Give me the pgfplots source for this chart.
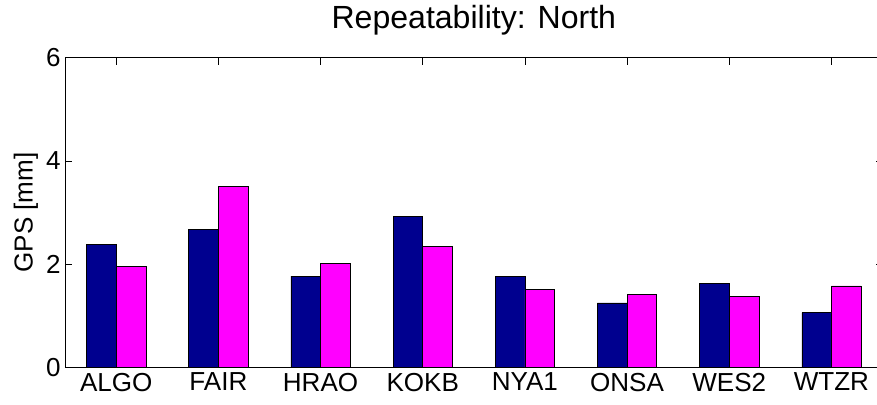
\documentclass[border=0pt]{standalone}
\usepackage{pgfplots}
\pgfplotsset{compat=1.18}
\usepackage{fontspec}
\setmainfont{Liberation Sans}
\definecolor{matnavy}{rgb}{0,0,0.5625}
\definecolor{matmag}{rgb}{1,0,1}
\begin{document}
\begin{tikzpicture}
\begin{axis}[
    scale only axis,
    width=816pt, height=309pt,
    xmin=0.5, xmax=8.5,
    ymin=0, ymax=6,
    xtick={1,2,3,4,5,6,7,8},
    xticklabels={ALGO,FAIR,HRAO,KOKB,NYA1,ONSA,WES2,WTZR},
    ytick={0,2,4,6},
    tick pos=both,
    tick align=inside,
    major tick length=7pt,
    axis line style={line width=0.8pt},
    every tick/.style={black, line width=0.6pt},
    /pgf/number format/assume math mode=true,
    tick label style={font=\fontsize{26}{30}\selectfont},
    xticklabel style={yshift=-2pt},
    yticklabel style={xshift=-1pt},
    ylabel={GPS [mm]},
    ylabel style={font=\fontsize{26}{30}\selectfont, at={(axis description cs:-0.048,0.5)}, anchor=center},
    title={Repeatability: North},
    title style={font=\fontsize{32}{36}\selectfont, anchor=base, at={(axis description cs:0.5,1)}, yshift=23.7pt},
]
% first series (navy)
\addplot[ybar, bar width=0.29, bar shift=-0.145, fill=matnavy, draw=black, line width=0.6pt]
    coordinates {(1,2.39) (2,2.67) (3,1.77) (4,2.93) (5,1.76) (6,1.25) (7,1.63) (8,1.06)};
% second series (magenta)
\addplot[ybar, bar width=0.29, bar shift=0.145, fill=matmag, draw=black, line width=0.6pt]
    coordinates {(1,1.95) (2,3.51) (3,2.01) (4,2.34) (5,1.51) (6,1.41) (7,1.37) (8,1.58)};
\end{axis}
\pgfresetboundingbox
\path ([shift={(-65pt,-37.3pt)}]current axis.south west) rectangle ([shift={(-5.5pt,57.7pt)}]current axis.north east);
\end{tikzpicture}
\end{document}
